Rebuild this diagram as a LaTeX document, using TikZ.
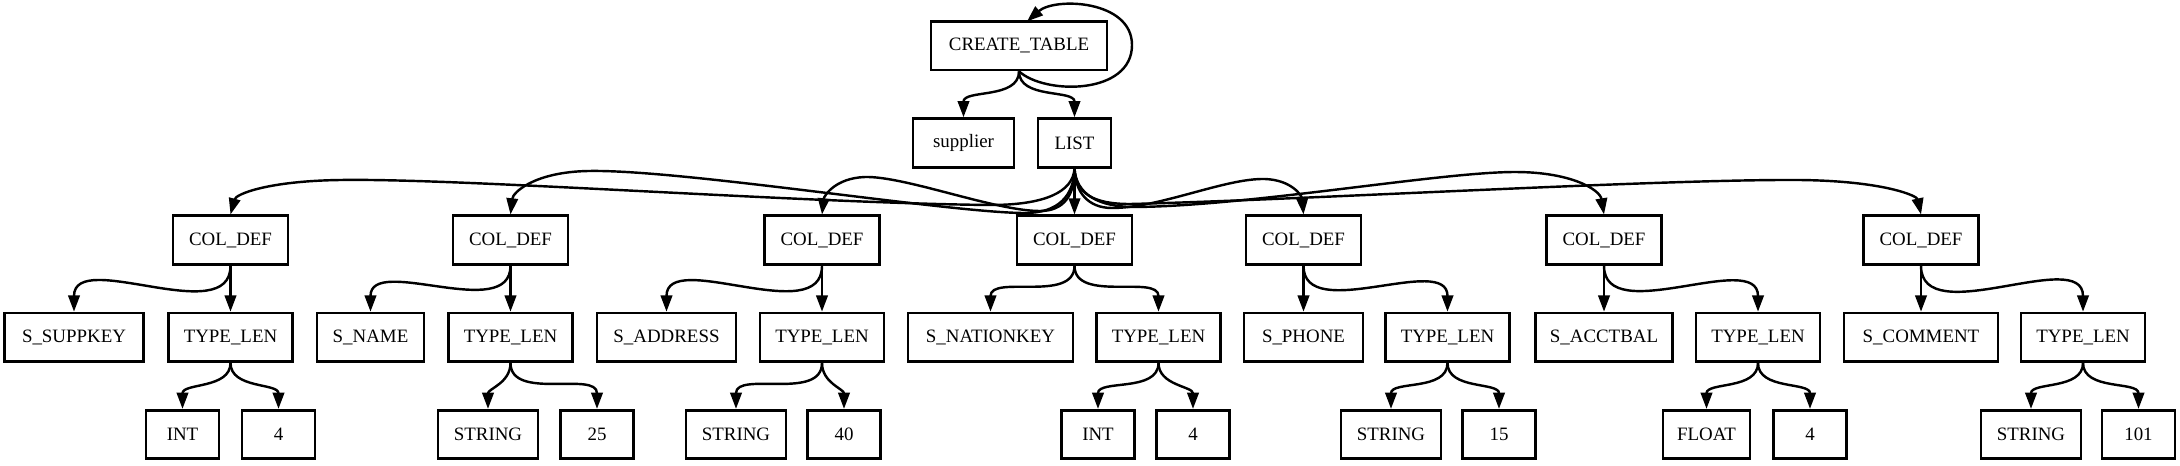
\documentclass[tikz,border=0pt]{standalone}
\usepackage{fontspec}
\setmainfont{Liberation Serif}
\usetikzlibrary{arrows.meta}
\tikzset{
  box/.style={draw, line width=2pt, minimum height=36pt, inner sep=0pt,
    font=\fontsize{14}{16}\selectfont, anchor=center},
  w/.style={minimum width={#1*0.740741pt}},
  edge/.style={line width=1.8pt, -{Triangle[length=12pt,width=8.5pt]}},
  sc/.style={out=-90, in=90},
}
\begin{document}
\begin{tikzpicture}[x=0.740741pt, y=-0.740741pt]
\useasboundingbox (0,0) rectangle (2180,465);
% level 1
\node[box, w=176] (ct) at (1019,45.7) {CREATE\_TABLE};
% level 2
\node[box, w=101] (sup) at (963.5,142.9) {supplier};
\node[box, w=73] (lst) at (1074.5,142.9) {LIST};
% level 3
\node[box, w=115] (c1) at (230.5,240.1) {COL\_DEF};
\node[box, w=115] (c2) at (510.5,240.1) {COL\_DEF};
\node[box, w=115] (c3) at (822,240.1) {COL\_DEF};
\node[box, w=115] (c4) at (1074.5,240.1) {COL\_DEF};
\node[box, w=115] (c5) at (1303.5,240.1) {COL\_DEF};
\node[box, w=115] (c6) at (1604,240.1) {COL\_DEF};
\node[box, w=115] (c7) at (1921,240.1) {COL\_DEF};
% level 4
\node[box, w=139] (k1) at (74,337.3) {S\_SUPPKEY};
\node[box, w=124] (t1) at (230.5,337.3) {TYPE\_LEN};
\node[box, w=107] (k2) at (370.5,337.3) {S\_NAME};
\node[box, w=124] (t2) at (510.5,337.3) {TYPE\_LEN};
\node[box, w=139] (k3) at (666.5,337.3) {S\_ADDRESS};
\node[box, w=124] (t3) at (822,337.3) {TYPE\_LEN};
\node[box, w=165] (k4) at (990.5,337.3) {S\_NATIONKEY};
\node[box, w=124] (t4) at (1158.5,337.3) {TYPE\_LEN};
\node[box, w=119] (k5) at (1303.5,337.3) {S\_PHONE};
\node[box, w=124] (t5) at (1447.5,337.3) {TYPE\_LEN};
\node[box, w=137] (k6) at (1604,337.3) {S\_ACCTBAL};
\node[box, w=124] (t6) at (1758,337.3) {TYPE\_LEN};
\node[box, w=154] (k7) at (1921,337.3) {S\_COMMENT};
\node[box, w=124] (t7) at (2083,337.3) {TYPE\_LEN};
% level 5
\node[box, w=73] (i1) at (182.5,434.5) {INT};
\node[box, w=73] (n1) at (278.5,434.5) {4};
\node[box, w=100] (s1) at (488,434.5) {STRING};
\node[box, w=73] (n2) at (597,434.5) {25};
\node[box, w=100] (s2) at (736,434.5) {STRING};
\node[box, w=73] (n3) at (844,434.5) {40};
\node[box, w=73] (i2) at (1098,434.5) {INT};
\node[box, w=73] (n4) at (1193,434.5) {4};
\node[box, w=100] (s3) at (1391,434.5) {STRING};
\node[box, w=73] (n5) at (1499,434.5) {15};
\node[box, w=87] (f1) at (1706.5,434.5) {FLOAT};
\node[box, w=73] (n6) at (1810,434.5) {4};
\node[box, w=100] (s4) at (2031,434.5) {STRING};
\node[box, w=73] (n7) at (2138.5,434.5) {101};
\coordinate (loopend) at (1027,21.4);
% level 1 -> 2
\draw[edge] (ct.south) .. controls (1045,95) and (1132,95) .. (1132,45)
  .. controls (1132,0) and (1055,-3) .. (loopend);
\draw[edge] (ct.south) to[sc] (sup.north);
\draw[edge] (ct.south) to[sc] (lst.north);
% LIST -> COL_DEF
\draw[edge] (lst.south) .. controls (1073,192) and (1045,205) .. (990,205)
  .. controls (800,203) and (460,178) .. (340,180)
  .. controls (268,181) and (236,194) .. (c1.north);
\draw[edge] (lst.south) .. controls (1074,196) and (1058,213) .. (1025,213)
  .. controls (950,213) and (680,169) .. (588,171)
  .. controls (535,172) and (513,192) .. (c2.north);
\draw[edge] (lst.south) .. controls (1075,195) and (1064,211) .. (1040,211)
  .. controls (995,211) and (905,176) .. (865,177)
  .. controls (835,178) and (824,196) .. (c3.north);
\draw[edge] (lst.south) -- (c4.north);
\draw[edge] (lst.south) .. controls (1075,192) and (1088,208) .. (1112,208)
  .. controls (1160,208) and (1225,178) .. (1265,179)
  .. controls (1292,180) and (1302,196) .. (c5.north);
\draw[edge] (lst.south) .. controls (1076,194) and (1098,207) .. (1135,207)
  .. controls (1250,206) and (1440,172) .. (1515,172)
  .. controls (1572,172) and (1600,190) .. (c6.north);
\draw[edge] (lst.south) .. controls (1076,193) and (1092,204) .. (1130,204)
  .. controls (1300,200) and (1660,179) .. (1800,180)
  .. controls (1885,181) and (1917,196) .. (c7.north);
% COL_DEF -> children
\draw[edge] (c1.south) to[sc] (k1.north);
\draw[edge] (c1.south) -- (t1.north);
\draw[edge] (c2.south) to[sc] (k2.north);
\draw[edge] (c2.south) -- (t2.north);
\draw[edge] (c3.south) to[sc] (k3.north);
\draw[edge] (c3.south) -- (t3.north);
\draw[edge] (c4.south) to[sc] (k4.north);
\draw[edge] (c4.south) to[sc] (t4.north);
\draw[edge] (c5.south) -- (k5.north);
\draw[edge] (c5.south) to[sc] (t5.north);
\draw[edge] (c6.south) -- (k6.north);
\draw[edge] (c6.south) to[sc] (t6.north);
\draw[edge] (c7.south) -- (k7.north);
\draw[edge] (c7.south) to[sc] (t7.north);
% TYPE_LEN -> children
\draw[edge] (t1.south) to[sc] (i1.north);
\draw[edge] (t1.south) to[sc] (n1.north);
\draw[edge] (t2.south) to[sc] (s1.north);
\draw[edge] (t2.south) to[sc] (n2.north);
\draw[edge] (t3.south) to[sc] (s2.north);
\draw[edge] (t3.south) to[sc] (n3.north);
\draw[edge] (t4.south) to[sc] (i2.north);
\draw[edge] (t4.south) to[sc] (n4.north);
\draw[edge] (t5.south) to[sc] (s3.north);
\draw[edge] (t5.south) to[sc] (n5.north);
\draw[edge] (t6.south) to[sc] (f1.north);
\draw[edge] (t6.south) to[sc] (n6.north);
\draw[edge] (t7.south) to[sc] (s4.north);
\draw[edge] (t7.south) to[sc] (n7.north);
\end{tikzpicture}
\end{document}
